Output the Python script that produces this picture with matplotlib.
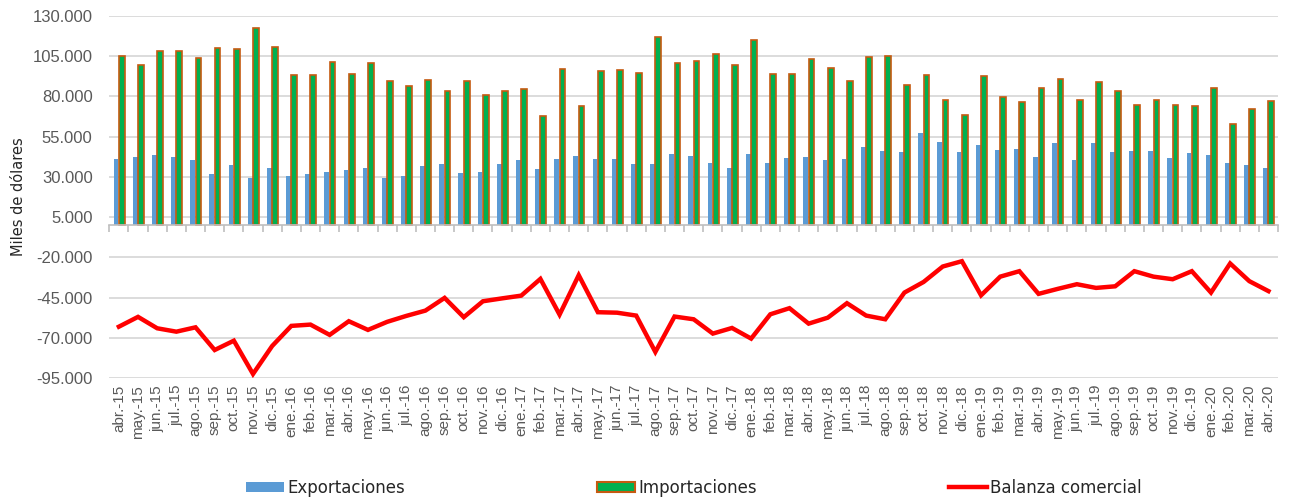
import matplotlib.pyplot as plt
import numpy as np
from matplotlib.patches import Patch
from matplotlib.lines import Line2D

# Meses (abr-15 .. abr-20)
meses = ["abr.", "may.", "jun.", "jul.", "ago.", "sep.", "oct.", "nov.", "dic.",
         "ene.", "feb.", "mar."]
etiquetas = []
for anio in range(15, 21):
    for m in meses:
        if m in ["ene.", "feb.", "mar."]:
            etiquetas.append(f"{m}-{anio + 1}")
        else:
            etiquetas.append(f"{m}-{anio}")
etiquetas = etiquetas[:61]

# Miles de dólares
exportaciones = [41200, 42500, 43900, 42100, 40600, 31900, 37500, 29600, 35600, 30700,
                 31700, 33300, 34200, 35600, 29400, 30500, 36700, 38300, 32500, 33300,
                 38300, 40800, 34800, 41400, 42900, 41200, 41400, 38100, 38300, 44200,
                 43100, 38800, 35600, 44500, 38600, 41900, 42300, 40600, 41000, 48300,
                 46200, 45200, 57400, 52000, 45600, 49800, 47000, 47600, 42100, 50800,
                 40600, 50800, 45600, 46200, 46200, 41700, 45000, 43700, 38800, 37100,
                 35800]
importaciones = [104900, 99500, 108200, 108200, 103900, 109900, 109500, 122300, 110900, 93300,
                 93100, 101600, 94100, 101100, 89800, 86500, 90200, 83500, 89900, 81000,
                 83700, 84600, 68000, 97000, 74000, 95800, 96200, 94300, 116900, 101100,
                 102000, 106400, 99700, 115400, 93900, 93900, 103400, 98000, 89900, 104700,
                 104900, 87100, 93300, 77800, 68200, 92900, 79400, 76500, 85000, 91000,
                 77500, 89300, 83700, 75000, 78100, 75000, 73800, 85200, 62800, 72200,
                 76900]
balanza = [-63100, -57000, -64100, -66200, -63500, -77600, -71800, -92500, -75100, -62600,
           -61800, -68200, -59700, -65100, -60100, -56400, -53100, -45200, -57200, -47300,
           -45500, -43800, -33400, -55600, -31100, -54100, -54400, -56200, -78800, -56800,
           -58500, -67400, -63900, -70500, -55400, -51600, -61200, -57500, -48500, -56200,
           -58500, -41900, -35300, -25700, -22400, -43600, -32000, -28600, -42700, -39600,
           -36700, -39000, -38000, -28600, -32000, -33600, -28600, -41900, -23800, -34800,
           -41000]

x = np.arange(len(etiquetas))
gris = "#595959"

fig = plt.figure(figsize=(12.92, 5.01), dpi=100)
ax = fig.add_axes([0.0846, 0.2455, 0.9046, 0.7225])

ax.bar(x - 0.15, exportaciones, width=0.25, color="#5B9BD5", zorder=2)
ax.bar(x + 0.15, importaciones, width=0.3, color="#00B050", edgecolor="#C55A11",
       linewidth=1.2, zorder=2)
ax.plot(x, balanza, color="#FF0000", linewidth=3.2, zorder=3, solid_joinstyle="miter")

# Eje Y
ax.set_ylim(-95000, 130000)
ax.set_yticks(np.arange(-95000, 130001, 25000))
ax.set_yticklabels([f"{v:,}".replace(",", ".") for v in range(-95000, 130001, 25000)],
                   fontsize=12, color=gris, family="Liberation Sans")
ax.tick_params(axis="y", length=0, pad=12)
ax.grid(axis="y", color="#D9D9D9", linewidth=1.3, zorder=0)
ax.set_axisbelow(True)
ax.set_ylabel("Miles de dólares", fontsize=10.5, color="#262626", labelpad=5)

# Eje X en el cero, con marcas entre categorías
ax.set_xlim(-0.5, len(x) - 0.5)
for s in ["top", "right", "left"]:
    ax.spines[s].set_visible(False)
ax.spines["bottom"].set_position(("data", 0))
ax.spines["bottom"].set_color("#BFBFBF")
ax.spines["bottom"].set_linewidth(1.2)
ax.set_xticks(np.arange(-0.5, len(x), 1.0))
ax.set_xticklabels([])
ax.tick_params(axis="x", length=5, color="#BFBFBF", width=1.2)

# Etiquetas de meses abajo
sec = ax.secondary_xaxis("bottom")
sec.set_xticks(x)
sec.set_xticklabels(etiquetas, rotation=90, fontsize=11, color=gris,
                    family="Liberation Sans")
sec.tick_params(length=0, pad=5)
sec.spines["bottom"].set_visible(False)

# Leyenda
handles = [Patch(facecolor="#5B9BD5", edgecolor="none"),
           Patch(facecolor="#00B050", edgecolor="#C55A11", linewidth=1.5),
           Line2D([0], [0], color="#FF0000", linewidth=3.2)]
fig.legend(handles, ["Exportaciones", "Importaciones", "Balanza comercial"],
           loc="center", bbox_to_anchor=(0.537, 0.026), ncol=3, frameon=False,
           fontsize=12, handlelength=2.3, handleheight=0.6, handletextpad=0.2,
           columnspacing=11.5, labelcolor="#262626")

plt.savefig("out.png", dpi=100)
